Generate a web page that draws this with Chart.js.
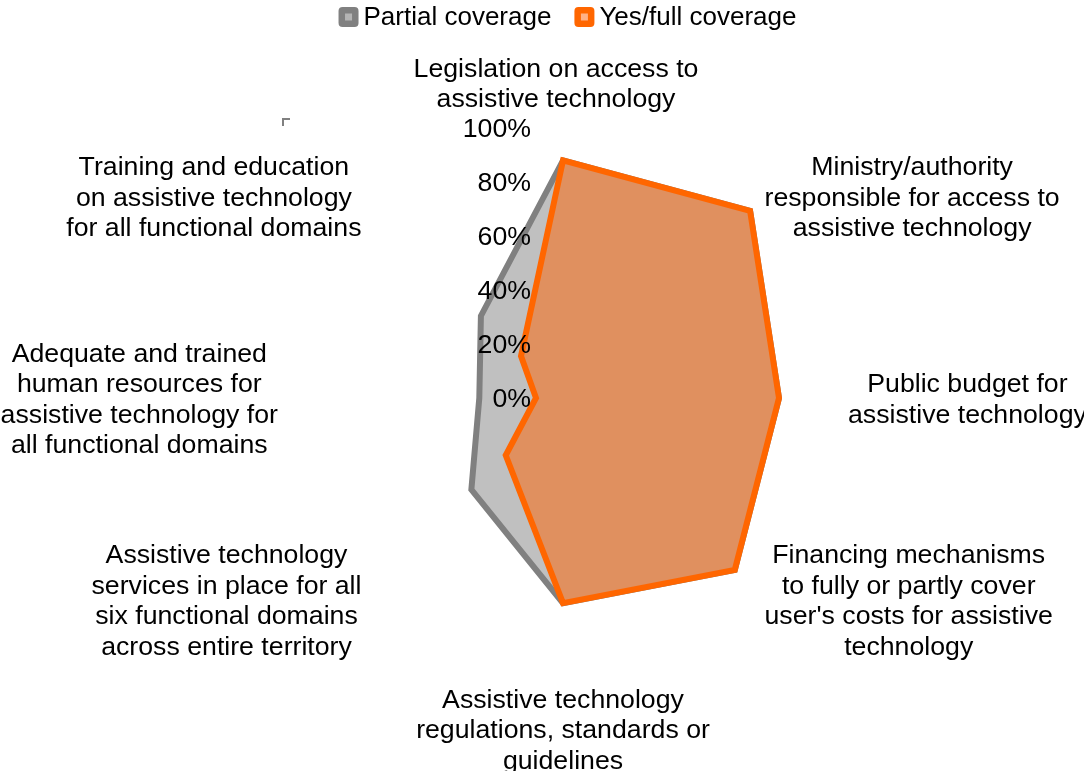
<!DOCTYPE html>
<html><head><meta charset="utf-8">
<script src="https://cdn.jsdelivr.net/npm/chart.js@4/dist/chart.umd.min.js"></script>
<style>html,body{margin:0;padding:0;background:#fff;} #wrap{width:1084px;height:771px;position:relative}</style>
</head><body><div id="wrap"><canvas id="c" width="1084" height="771"></canvas></div>
<script>
const categories = [
  ['Legislation on access to', 'assistive technology'],
  ['Ministry/authority', 'responsible for access to', 'assistive technology'],
  ['Public budget for', 'assistive technology'],
  ['Financing mechanisms', 'to fully or partly cover', "user's costs for assistive", 'technology'],
  ['Assistive technology', 'regulations, standards or', 'guidelines'],
  ['Assistive technology', 'services in place for all', 'six functional domains', 'across entire territory'],
  ['Adequate and trained', 'human resources for', 'assistive technology for', 'all functional domains'],
  ['Training and education', 'on assistive technology', 'for all functional domains']
];
const seriesNames = ['Partial coverage', 'Yes/full coverage'];
const partialCoverage = [88, 98, 80, 90, 76, 48, 31, 43];
const fullCoverage = [88, 98, 80, 90, 76, 30, 10, 22];
const tickValues = [0, 20, 40, 60, 80, 100];
const tickLabels = ['0%', '20%', '40%', '60%', '80%', '100%'];

const FONT = "26.7px 'Liberation Sans', Arial, sans-serif";
const LEGEND_FONT = "26px 'Liberation Sans', Arial, sans-serif";
const LH = 30.5;
const DY = 2;

const colors = [
  {line: '#808080', fill: '#C0C0C0', inner: '#B4B4B4'},
  {line: '#FF6600', fill: '#E0905F', inner: '#FFB187'}
];

const labelsPlugin = {
  id: 'customText',
  afterDatasetsDraw(chart) {
    const ctx = chart.ctx;
    const s = chart.scales.r;
    ctx.save();
    ctx.font = FONT;
    ctx.fillStyle = '#000';
    ctx.textBaseline = 'middle';
    ctx.textAlign = 'right';
    tickValues.forEach((v, i) => {
      const y = s.yCenter - s.getDistanceFromCenterForValue(v);
      ctx.fillText(tickLabels[i], s.xCenter - 32, y + 2);
    });
    categories.forEach((lines, i) => {
      const p = s.getPointPosition(i, s.drawingArea + 15);
      let deg = Math.round((p.angle + Math.PI / 2) * 180 / Math.PI);
      deg = ((deg % 360) + 360) % 360;
      const widths = lines.map(t => ctx.measureText(t).width);
      const w = Math.max(...widths);
      const n = lines.length;
      let top, cx;
      if (deg === 0) { top = p.y - n * LH; cx = p.x - 7; }
      else if (deg === 180) { top = p.y; cx = p.x; }
      else {
        top = p.y - n * LH / 2;
        cx = deg < 180 ? p.x + w / 2 : p.x - w / 2;
      }
      ctx.textAlign = 'center';
      lines.forEach((t, k) => ctx.fillText(t, cx, top + LH * (k + 0.5) + DY));
    });
    ctx.restore();
  },
  afterDraw(chart) {
    const ctx = chart.ctx;
    ctx.save();
    ctx.font = LEGEND_FONT;
    ctx.textBaseline = 'middle';
    ctx.textAlign = 'left';
    const box = 20, gap = 5, itemGap = 23, cy = 17;
    const items = chart.data.datasets.map((d, i) => ({text: d.label, w: ctx.measureText(d.label).width, c: colors[i]}));
    const total = items.reduce((a, it) => a + box + gap + it.w, 0) + itemGap * (items.length - 1);
    let x = 567.5 - total / 2;
    items.forEach(it => {
      ctx.fillStyle = it.c.line;
      ctx.beginPath();
      ctx.roundRect(x, cy - box / 2, box, box, 4);
      ctx.fill();
      ctx.fillStyle = it.c.inner;
      ctx.fillRect(x + box / 2 - 3.5, cy - 3.5, 7, 7);
      ctx.fillStyle = '#000';
      ctx.fillText(it.text, x + box + gap, cy + 1);
      x += box + gap + it.w + itemGap;
    });
    ctx.strokeStyle = '#808080';
    ctx.lineWidth = 2;
    ctx.beginPath();
    ctx.moveTo(283, 126);
    ctx.lineTo(283, 119);
    ctx.lineTo(290, 119);
    ctx.stroke();
    ctx.restore();
  }
};

new Chart(document.getElementById('c'), {
  type: 'radar',
  data: {
    labels: categories,
    datasets: [
      {label: seriesNames[0], data: partialCoverage, order: 1, borderColor: colors[0].line, backgroundColor: colors[0].fill, borderWidth: 6, fill: true, pointRadius: 0, borderJoinStyle: 'miter'},
      {label: seriesNames[1], data: fullCoverage, order: 0, borderColor: colors[1].line, backgroundColor: colors[1].fill, borderWidth: 6, fill: true, pointRadius: 0, borderJoinStyle: 'miter'}
    ]
  },
  options: {
    responsive: false,
    devicePixelRatio: 1,
    animation: false,
    layout: {padding: {top: 128, bottom: 103, left: 142, right: 100}},
    plugins: {legend: {display: false}, tooltip: {enabled: false}},
    elements: {line: {tension: 0}},
    scales: {
      r: {
        min: 0, max: 100,
        ticks: {display: false, stepSize: 20},
        grid: {display: false},
        angleLines: {display: false},
        pointLabels: {display: false}
      }
    }
  },
  plugins: [labelsPlugin]
});
</script></body></html>
